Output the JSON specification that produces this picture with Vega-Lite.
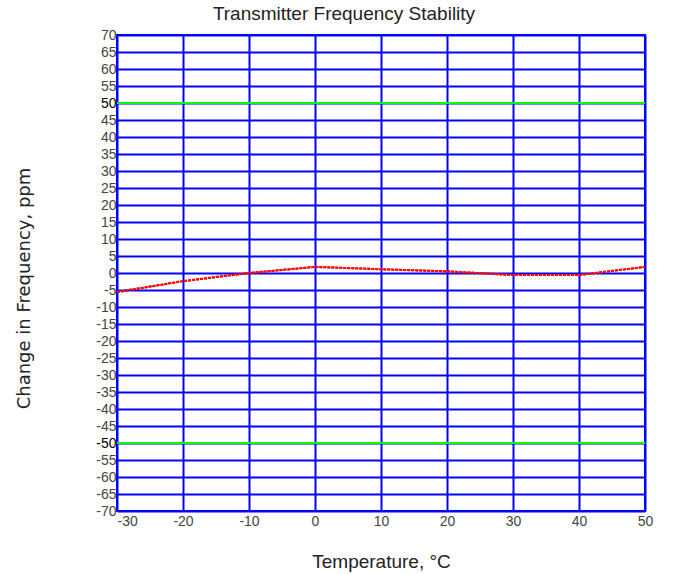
{
  "$schema": "https://vega.github.io/schema/vega-lite/v6.json",
  "autosize": "none",
  "padding": {"left": 117, "top": 35, "right": 32, "bottom": 63},
  "width": 528,
  "height": 476,
  "background": "white",
  "title": {
    "text": "Transmitter Frequency Stability",
    "font": "Liberation Sans",
    "fontSize": 19,
    "fontWeight": "normal",
    "color": "#222222",
    "anchor": "middle",
    "dx": -37,
    "offset": 4
  },
  "datasets": {
    "stability": [
      {"temp": -30, "ppm": -5.6},
      {"temp": -20, "ppm": -2.4},
      {"temp": -10, "ppm": 0.0},
      {"temp": 0, "ppm": 1.8},
      {"temp": 10, "ppm": 1.1},
      {"temp": 20, "ppm": 0.5},
      {"temp": 30, "ppm": -0.6},
      {"temp": 40, "ppm": -0.6},
      {"temp": 50, "ppm": 1.8}
    ],
    "limits": [
      {"limit": 50},
      {"limit": -50}
    ]
  },
  "layer": [
    {
      "data": {"name": "stability"},
      "mark": {"type": "line", "color": "#FF0000", "strokeWidth": 2, "strokeDash": [3, 1]},
      "encoding": {
        "x": {
          "field": "temp",
          "type": "quantitative",
          "title": "Temperature, °C",
          "scale": {"domain": [-30, 50], "nice": false},
          "axis": {
            "values": [-30, -20, -10, 0, 10, 20, 30, 40, 50],
            "tickCount": 9,
            "labelExpr": "toString(datum.value)",
            "labelAlign": {"condition": {"test": "datum.value == -30", "value": "left"}, "value": "center"},
            "labelPadding": 3,
            "titlePadding": 24
          }
        },
        "y": {
          "field": "ppm",
          "type": "quantitative",
          "title": "Change in Frequency, ppm",
          "scale": {"domain": [-70, 70], "nice": false},
          "axis": {
            "values": [-70, -65, -60, -55, -50, -45, -40, -35, -30, -25, -20, -15, -10, -5, 0, 5, 10, 15, 20, 25, 30, 35, 40, 45, 50, 55, 60, 65, 70],
            "tickCount": 29,
            "labelExpr": "toString(datum.value)",
            "labelColor": {"condition": {"test": "abs(datum.value) == 50", "value": "#000000"}, "value": "#444444"},
            "labelPadding": 1,
            "labelOverlap": false,
            "titleFont": "DejaVu Sans",
            "titleFontSize": 18,
            "titlePadding": 62,
            "titleY": 253
          }
        }
      }
    },
    {
      "data": {"name": "limits"},
      "mark": {"type": "rule", "color": "#00FF00", "strokeWidth": 2},
      "encoding": {
        "y": {"field": "limit", "type": "quantitative"}
      }
    },
    {
      "data": {"name": "stability"},
      "mark": {"type": "line", "color": "#FF0000", "strokeWidth": 2, "strokeDash": [3, 1]},
      "encoding": {
        "x": {"field": "temp", "type": "quantitative"},
        "y": {"field": "ppm", "type": "quantitative"}
      }
    }
  ],
  "config": {
    "view": {"stroke": "#0000FF", "strokeWidth": 2},
    "axis": {
      "domain": false,
      "ticks": false,
      "grid": true,
      "gridColor": "#0000FF",
      "gridWidth": 2,
      "gridOpacity": 1,
      "labelFont": "Liberation Sans",
      "labelFontSize": 14,
      "labelColor": "#444444",
      "titleFont": "Liberation Sans",
      "titleFontSize": 19,
      "titleFontWeight": "normal",
      "titleColor": "#222222"
    }
  }
}
